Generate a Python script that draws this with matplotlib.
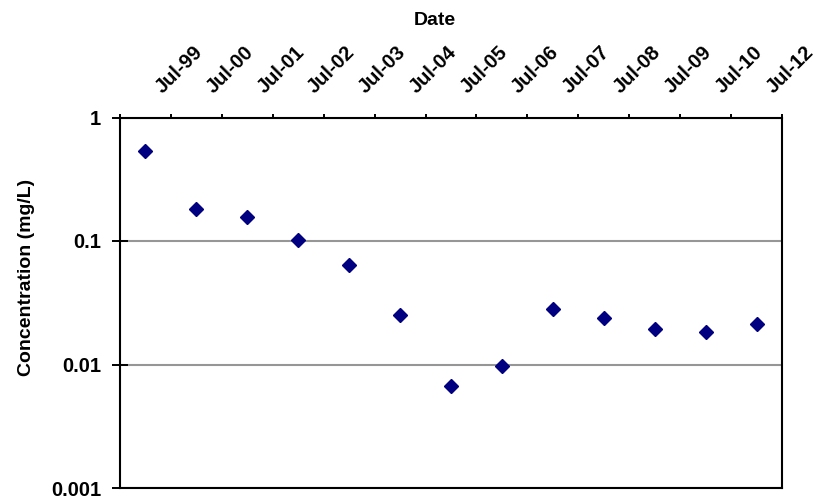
import matplotlib
matplotlib.use("Agg")
import matplotlib.pyplot as plt
from matplotlib.transforms import ScaledTranslation

plt.rcParams['font.family'] = ['Liberation Sans', 'DejaVu Sans']
plt.rcParams['font.weight'] = 'bold'

# Sampling events (mid-interval positions between the July ticks)
sample_index = [0.5, 1.5, 2.5, 3.5, 4.5, 5.5, 6.5, 7.5, 8.5, 9.5, 10.5, 11.5, 12.5]
concentration = [0.54, 0.183, 0.157, 0.102, 0.0644, 0.0254, 0.00664, 0.00964,
                 0.0282, 0.0236, 0.0195, 0.0182, 0.0211]

date_ticks = list(range(14))
date_labels = ["", "Jul-99", "Jul-00", "Jul-01", "Jul-02", "Jul-03", "Jul-04",
               "Jul-05", "Jul-06", "Jul-07", "Jul-08", "Jul-09", "Jul-10", "Jul-12"]

conc_ticks = [0.001, 0.01, 0.1, 1]
conc_labels = ["0.001", "0.01", "0.1", "1"]

fig = plt.figure(figsize=(8.16, 5.01), dpi=100)
ax = fig.add_axes([120 / 816, 13 / 501, 662 / 816, 370.5 / 501])

ax.set_yscale('log')
ax.set_ylim(0.001, 1)
ax.set_xlim(0, 13)

ax.plot(sample_index, concentration, linestyle='none', marker='D',
        markersize=7.2, color='#000080', markeredgecolor='#000080', zorder=3)

# y axis
ax.set_yticks(conc_ticks)
ax.set_yticklabels(conc_labels)
ax.yaxis.set_minor_locator(matplotlib.ticker.NullLocator())
ax.tick_params(axis='y', which='major', direction='inout', length=11, width=1.4,
               pad=8, labelsize=14.5)
ax.grid(axis='y', which='major', color='#969696', linewidth=1.5, zorder=1)

# x axis on top
ax.xaxis.tick_top()
ax.xaxis.set_label_position('top')
ax.set_xticks(date_ticks)
ax.set_xticklabels(date_labels, rotation=45, ha='left', va='baseline',
                   rotation_mode='anchor')
ax.tick_params(axis='x', which='major', direction='out', length=3.2, width=1.4,
               pad=14, labelsize=14.5)
for lbl in ax.get_xticklabels():
    lbl.set_transform(lbl.get_transform() + ScaledTranslation(-0.085, 0, fig.dpi_scale_trans))

for s in ax.spines.values():
    s.set_color('black')
    s.set_linewidth(1.5)

ax.set_xlabel('Date', fontsize=14, fontweight='bold')
ax.xaxis.set_label_coords(0.476, 1.2497)
ax.set_ylabel('Concentration (mg/L)', fontsize=14, fontweight='bold')
ax.yaxis.set_label_coords(-0.128, 0.568)

fig.savefig('out.png', dpi=100)
